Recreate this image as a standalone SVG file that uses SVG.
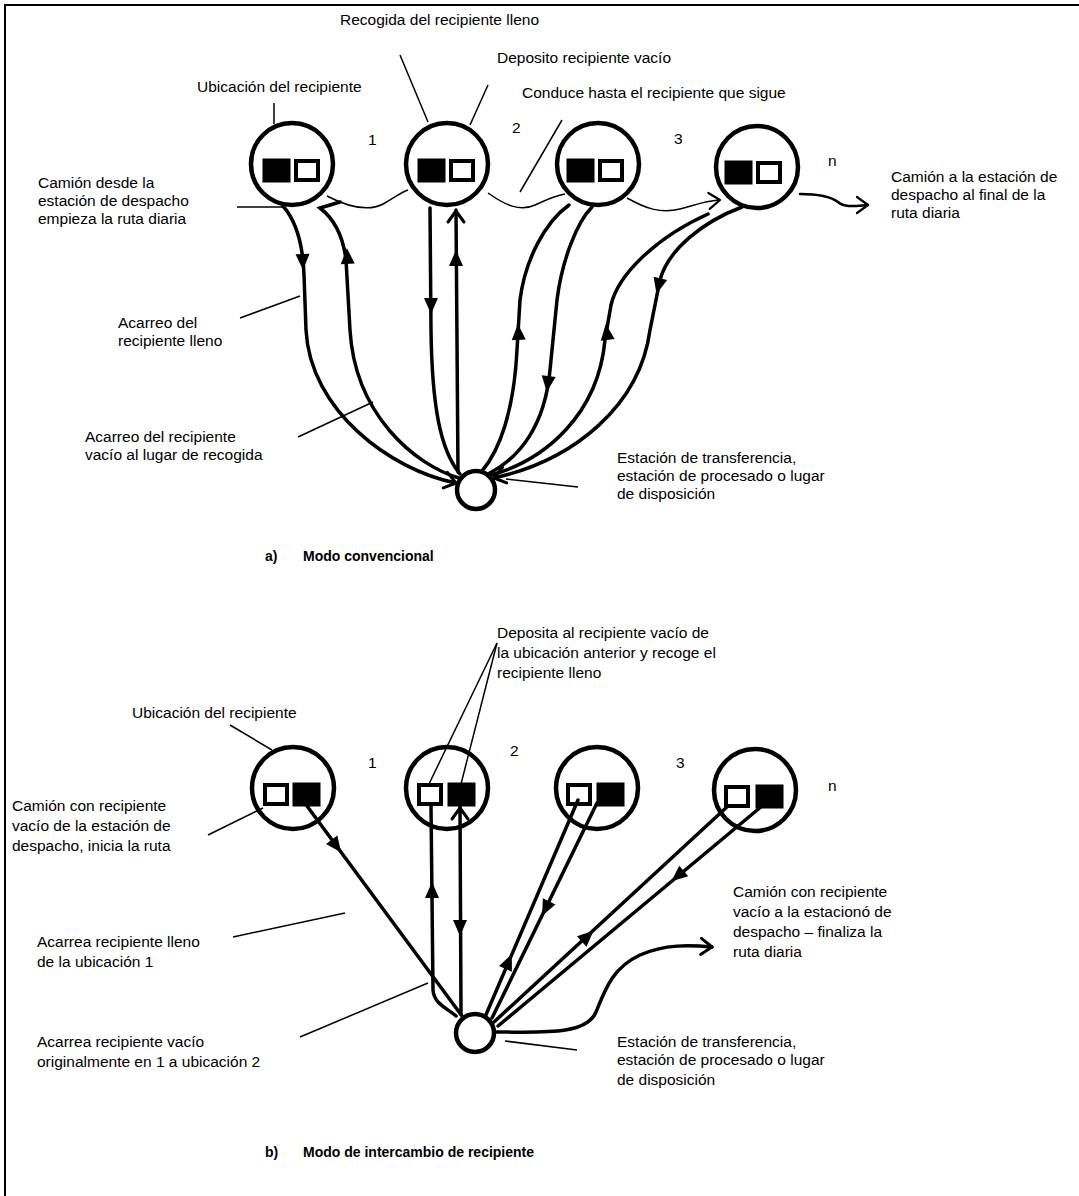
<svg xmlns="http://www.w3.org/2000/svg" xmlns:xlink="http://www.w3.org/1999/xlink" width="1079" height="1196" viewBox="0 0 1079 1196">
<style>
text{font-family:"Liberation Sans",Arial,sans-serif;font-size:15.5px;fill:#000}
.b{font-weight:bold;font-size:14px}
.loc{fill:none;stroke:#000;stroke-width:4.5}
.full{fill:#000;stroke:#000;stroke-width:1}
.empty{fill:#fff;stroke:#000;stroke-width:4}
.thick{fill:none;stroke:#000;stroke-width:3.5;stroke-linecap:round}
.thin{fill:none;stroke:#000;stroke-width:1.5}
.lead{fill:none;stroke:#000;stroke-width:1.5}
.ah{fill:#000}
.av{fill:none;stroke:#000;stroke-width:3;stroke-linecap:round;stroke-linejoin:round}
</style>
<defs>
<path id="ah" d="M2,0 L-14,-7 L-14,7 Z"/>
<path id="av" d="M-11,-8 L0,0 L-11,8"/>
</defs>
<rect x="5" y="5" width="1100" height="1220" fill="none" stroke="#000" stroke-width="2"/>

<!-- ===== Part a ===== -->
<g id="loc-a1"><circle class="loc" cx="292" cy="164" r="41"/><rect class="full" x="263" y="159" width="27" height="23"/><rect class="empty" x="296" y="161" width="22" height="19"/></g>
<g id="loc-a2"><circle class="loc" cx="447" cy="164" r="41"/><rect class="full" x="418" y="159" width="27" height="23"/><rect class="empty" x="451" y="161" width="22" height="19"/></g>
<g id="loc-a3"><circle class="loc" cx="598" cy="164" r="41"/><rect class="full" x="567" y="159" width="27" height="23"/><rect class="empty" x="600" y="161" width="22" height="19"/></g>
<g id="loc-a4"><circle class="loc" cx="757" cy="167" r="41"/><rect class="full" x="725" y="161" width="27" height="23"/><rect class="empty" x="758" y="163" width="22" height="19"/></g>
<g id="station-a"><circle class="loc" cx="476" cy="490" r="19"/></g>

<g id="connectors-a">
<path class="thin" d="M327,196 C350,208 370,212 385,203 C395,197 402,192 408,190"/>
<path class="thin" d="M488,193 C505,205 520,212 535,205 C550,198 558,195 565,194"/>
<path class="thin" d="M627,198 C645,208 660,214 680,209 C695,205 705,201 719,200"/>
<use href="#av" class="av" transform="translate(720,200) rotate(-5)" style="stroke-width:2.2"/>
<path class="thick" style="stroke-width:2.5" d="M800,194 C815,194 830,196 838,202 C845,208 855,206 868,205"/>
<use href="#av" class="av" transform="translate(868,205)" style="stroke-width:2.2"/>

<path class="thick" d="M283,206 C297,222 303,245 304,275 L306,330 C310,410 390,470 456,483"/>
<use href="#ah" class="ah" transform="translate(303,268) rotate(88)"/>
<use href="#av" class="av" transform="translate(456,483) rotate(15)"/>
<path class="thick" d="M340,202 L320,208 C333,218 343,235 346,260 L350,330 C355,415 415,465 459,478"/>
<use href="#ah" class="ah" transform="translate(347,250) rotate(-93)"/>
<path class="thick" d="M430,208 L431,330 C432,405 440,450 460,474"/>
<use href="#ah" class="ah" transform="translate(431,312) rotate(90)"/>
<path class="thick" d="M456,210 L458,472"/>
<use href="#ah" class="ah" transform="translate(456,252) rotate(-90)"/>
<use href="#av" class="av" transform="translate(456,211) rotate(-90)"/>
<path class="thick" d="M569,205 C545,222 525,260 520,300 L517,350 C514,410 500,450 482,471"/>
<use href="#ah" class="ah" transform="translate(518,326) rotate(-93)"/>
<path class="thick" d="M592,207 C577,222 562,260 557,300 L550,370 C545,425 520,458 488,474"/>
<use href="#ah" class="ah" transform="translate(547,390) rotate(97)"/>
<path class="thick" d="M708,214 C655,238 618,275 611,305 L605,340 C598,415 545,460 491,475"/>
<use href="#ah" class="ah" transform="translate(606,326) rotate(-97)"/>
<path class="thick" d="M742,207 C702,222 668,250 660,280 L650,330 C640,405 575,460 494,478"/>
<use href="#ah" class="ah" transform="translate(657,292) rotate(104)"/>
<use href="#av" class="av" transform="translate(494,478) rotate(165)"/>

<path class="lead" d="M400,55 L428,122"/>
<path class="lead" d="M488,85 L470,125"/>
<path class="lead" d="M274,103 L274,124"/>
<path class="lead" d="M562,120 L520,192"/>
<path class="lead" d="M237,207 L283,207"/>
<path class="lead" d="M240,318 L300,296"/>
<path class="lead" d="M298,437 L373,402"/>
<path class="lead" d="M506,479 L578,487"/>
</g>

<text x="340" y="25">Recogida del recipiente lleno</text>
<text x="497" y="63">Deposito recipiente vacío</text>
<text x="197" y="92">Ubicación del recipiente</text>
<text x="522" y="98">Conduce hasta el recipiente que sigue</text>
<text x="368" y="145">1</text>
<text x="512" y="133">2</text>
<text x="674" y="144">3</text>
<text x="828" y="166">n</text>
<text x="38" y="188">Camión desde la</text>
<text x="38" y="206">estación de despacho</text>
<text x="38" y="224">empieza la ruta diaria</text>
<text x="891" y="182">Camión a la estación de</text>
<text x="891" y="200">despacho al final de la</text>
<text x="891" y="218">ruta diaria</text>
<text x="118" y="328">Acarreo del</text>
<text x="118" y="346">recipiente lleno</text>
<text x="85" y="442">Acarreo del recipiente</text>
<text x="85" y="460">vacío al lugar de recogida</text>
<text x="617" y="463">Estación de transferencia,</text>
<text x="617" y="481">estación de procesado o lugar</text>
<text x="617" y="499">de disposición</text>
<text class="b" x="265" y="561">a)</text>
<text class="b" x="303" y="561">Modo convencional</text>

<!-- ===== Part b ===== -->
<g id="loc-b1"><circle class="loc" cx="293" cy="788" r="41"/><rect class="empty" x="265" y="785" width="22" height="19"/><rect class="full" x="293" y="783" width="27" height="23"/></g>
<g id="loc-b2"><circle class="loc" cx="447" cy="788" r="41"/><rect class="empty" x="419" y="785" width="22" height="19"/><rect class="full" x="448" y="783" width="27" height="23"/></g>
<g id="loc-b3"><circle class="loc" cx="597" cy="788" r="41"/><rect class="empty" x="568" y="785" width="22" height="19"/><rect class="full" x="597" y="783" width="27" height="23"/></g>
<g id="loc-b4"><circle class="loc" cx="755" cy="790" r="41"/><rect class="empty" x="726" y="787" width="22" height="19"/><rect class="full" x="756" y="785" width="27" height="23"/></g>
<g id="station-b"><circle class="loc" cx="475" cy="1033" r="19"/></g>

<g id="connectors-b">
<path class="thick" d="M307,806 L462,1016"/>
<use href="#ah" class="ah" transform="translate(340,851) rotate(53.6)"/>
<path class="thick" d="M431,806 L433,990 C434,1004 447,1008 456,1016"/>
<use href="#ah" class="ah" transform="translate(432,884) rotate(-90)"/>
<path class="thick" d="M460,806 L461,1014"/>
<use href="#av" class="av" transform="translate(460,808) rotate(-90)"/>
<use href="#ah" class="ah" transform="translate(460,934) rotate(90)"/>
<path class="thick" d="M578,800 L485,1017"/>
<use href="#ah" class="ah" transform="translate(511,956) rotate(-66.8)"/>
<path class="thick" d="M597,803 L492,1018"/>
<use href="#ah" class="ah" transform="translate(543,914) rotate(116)"/>
<path class="thick" d="M728,806 L494,1022"/>
<use href="#ah" class="ah" transform="translate(592,932) rotate(-42.7)"/>
<path class="thick" d="M762,806 L498,1026"/>
<use href="#ah" class="ah" transform="translate(673,880) rotate(140)"/>
<path class="thick" d="M494,1032 C540,1032 586,1036 596,1012 C605,990 612,968 640,955 C665,944 690,945 712,947"/>
<use href="#av" class="av" transform="translate(712,947) rotate(3)"/>

<path class="lead" d="M497,643 L429,784"/>
<path class="lead" d="M497,643 L461,784"/>
<path class="lead" d="M230,725 L272,750"/>
<path class="lead" d="M208,835 L263,808"/>
<path class="lead" d="M233,937 L345,913"/>
<path class="lead" d="M300,1037 L428,983"/>
<path class="lead" d="M505,1041 L577,1050"/>
</g>

<text x="497" y="638">Deposita al recipiente vacío de</text>
<text x="497" y="658">la ubicación anterior y recoge el</text>
<text x="497" y="678">recipiente lleno</text>
<text x="132" y="718">Ubicación del recipiente</text>
<text x="368" y="768">1</text>
<text x="510" y="756">2</text>
<text x="676" y="768">3</text>
<text x="828" y="791">n</text>
<text x="12" y="811">Camión con recipiente</text>
<text x="12" y="831">vacío de la estación de</text>
<text x="12" y="851">despacho, inicia la ruta</text>
<text x="37" y="947">Acarrea recipiente lleno</text>
<text x="37" y="967">de la ubicación 1</text>
<text x="733" y="897">Camión con recipiente</text>
<text x="733" y="917">vacío a la estacionó de</text>
<text x="733" y="937">despacho – finaliza la</text>
<text x="733" y="957">ruta diaria</text>
<text x="37" y="1047">Acarrea recipiente vacío</text>
<text x="37" y="1067">originalmente en 1 a ubicación 2</text>
<text x="617" y="1047">Estación de transferencia,</text>
<text x="617" y="1065">estación de procesado o lugar</text>
<text x="617" y="1085">de disposición</text>
<text class="b" x="265" y="1157">b)</text>
<text class="b" x="303" y="1157">Modo de intercambio de recipiente</text>
</svg>
